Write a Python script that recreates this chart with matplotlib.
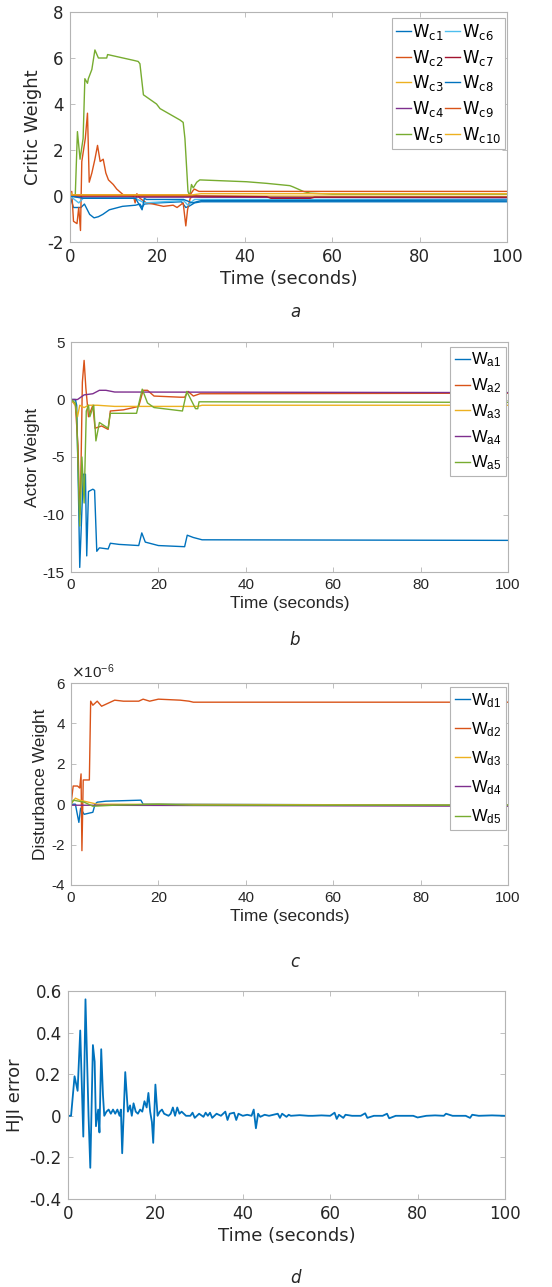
import numpy as np
import matplotlib
matplotlib.use("Agg")
from matplotlib import pyplot as plt
from matplotlib.ticker import FuncFormatter

plt.rcParams['axes.unicode_minus'] = False
plt.rcParams['mathtext.fontset'] = 'custom'

W, H = 552, 1287
colors = ['#0072BD', '#D95319', '#EDB120', '#7E2F8E', '#77AC30',
          '#4DBEEE', '#A2142F', '#0072BD', '#D95319', '#EDB120']

# ---- panel a: critic weights ----
tc1 = [0, 0.8, 2.5, 3.3, 4.5, 5.5, 6.5, 7.5, 9, 12, 15, 16, 16.5, 17, 20, 25.5, 26.5, 27.2, 28.5, 30, 100]
wc1 = [0, -0.5, -0.5, -0.35, -0.8, -0.95, -0.9, -0.8, -0.6, -0.45, -0.4, -0.35, -0.5, -0.35, -0.3, -0.25, -0.5, -0.45, -0.3, -0.25, -0.25]
tc2 = [0, 0.4, 0.8, 1.6, 2.0, 2.4, 2.7, 3.5, 4.0, 4.4, 5.0, 5.7, 6.3, 6.9, 7.6, 8.2, 8.8, 9.9, 10.7, 12.2,
       14.5, 14.9, 15.3, 16, 17.5, 19, 21.4, 23.6, 24.5, 25.9, 26.5, 26.9, 27.5, 28.2, 30, 100]
wc2 = [0, 0.2, -1.1, -1.2, -0.5, -1.5, 1.5, 2.5, 3.6, 0.6, 1.0, 1.6, 2.2, 1.5, 1.6, 1.0, 0.7, 0.5, 0.3, 0.05,
       0.0, -0.3, 0.1, -0.1, -0.3, -0.35, -0.45, -0.4, -0.5, -0.3, -1.3, -0.6, -0.1, 0.0, -0.05, -0.05]
tc3 = [0, 0.5, 1.5, 3, 28, 100]
wc3 = [0.2, 0.05, 0.05, 0.05, 0.0, -0.02]
tc4 = [0, 2, 28, 100]
wc4 = [0, -0.05, -0.05, -0.08]
tc5 = [0, 1.2, 1.7, 2.3, 3.0, 3.4, 4.0, 4.2, 5.0, 5.7, 6.5, 8.4, 8.6, 14.5, 15.6, 16.0, 16.8, 19.8, 20.6,
       25.2, 25.9, 26.3, 27.0, 27.4, 27.8, 28.2, 29.0, 29.7, 40.4, 45, 50.3, 51, 53.4, 55, 60, 100]
wc5 = [0, 0, 2.8, 1.6, 2.5, 5.1, 4.9, 5.1, 5.5, 6.35, 6.0, 6.0, 6.15, 5.9, 5.85, 5.75, 4.4, 4.0, 3.8,
       3.3, 3.2, 2.5, 0.2, 0.0, 0.5, 0.35, 0.6, 0.7, 0.62, 0.55, 0.45, 0.4, 0.2, 0.12, 0.08, 0.08]
tc6 = [0, 2, 3, 15, 17, 26, 27, 28.5, 100]
wc6 = [0, -0.3, -0.1, -0.1, -0.3, -0.2, -0.4, -0.15, -0.15]
tc7 = [0, 28, 45, 46, 55, 56, 100]
wc7 = [0, 0.0, -0.03, -0.1, -0.1, -0.05, -0.05]
tc8 = [0, 3, 15, 16.5, 17, 17.5, 26, 28, 30, 100]
wc8 = [0, -0.1, -0.1, -0.6, -0.1, -0.15, -0.15, -0.3, -0.2, -0.18]
tc9 = [0, 27.5, 28.2, 28.5, 29.5, 100]
wc9 = [0.05, 0.05, 0.25, 0.3, 0.2, 0.2]
tc10 = [0, 28, 30, 100]
wc10 = [0.05, 0.05, 0.1, 0.1]

# ---- panel b: actor weights ----
ta1 = [0, 1.0, 1.3, 1.7, 2.0, 2.8, 3.3, 3.6, 4.0, 5.0, 5.4, 5.9, 6.5, 8.5, 9.0, 11, 15.5, 16.2, 17, 20,
       26, 26.6, 28, 29, 30, 100]
wa1 = [0, 0, -0.5, -8, -14.6, -6.5, -6.5, -13.6, -8.0, -7.8, -7.9, -13.2, -12.9, -13.0, -12.5, -12.6, -12.7,
       -11.6, -12.4, -12.7, -12.8, -11.8, -12.0, -12.1, -12.2, -12.25]
ta2 = [0, 1.0, 1.6, 2.0, 2.2, 2.6, 3.0, 3.4, 4.0, 5.0, 5.5, 7.0, 8.5, 9.0, 12, 15.5, 16.5, 17.5, 19, 25,
       26, 26.8, 28, 29.5, 100]
wa2 = [0, -0.5, -4, -10, -8, 1.5, 3.4, 1.0, -1.5, -0.5, -2.5, -2.3, -2.6, -1.0, -0.9, -0.6, 0.8, 0.8, 0.3,
       0.2, 0.2, 0.7, 0.3, 0.5, 0.55]
ta3 = [0, 1.0, 1.5, 2.0, 3.0, 4.0, 6, 10, 29, 30, 100]
wa3 = [0, -0.5, -1.5, -0.5, -0.7, -0.5, -0.5, -0.6, -0.6, -0.5, -0.5]
ta4 = [0, 1.5, 3, 5, 6.5, 8, 10, 100]
wa4 = [0, 0, 0.4, 0.5, 0.8, 0.8, 0.65, 0.6]
ta5 = [0, 1.0, 1.3, 2.0, 2.5, 3.0, 3.5, 4.0, 4.3, 5.2, 5.7, 6.5, 8.5, 9.0, 15, 16.3, 17.5, 19, 25.5, 26.5,
       28.5, 29, 29.3, 100]
wa5 = [0, -0.3, -1.5, -11, -5, -9, -1, -0.5, -1.5, -0.5, -3.6, -2.0, -2.5, -1.2, -1.2, 0.9, -0.3, -0.7,
       -1.0, 0.7, -0.8, -0.8, -0.2, -0.25]

# ---- panel c: disturbance weights (x 1e-6) ----
td1 = [0, 1.0, 1.8, 2.2, 3.0, 5.0, 5.5, 6.0, 8, 16, 16.5, 100]
wd1 = [0, 0, -0.9, -0.2, -0.5, -0.4, 0.0, 0.1, 0.15, 0.2, 0.0, -0.05]
td2 = [0, 0.5, 1.5, 2.0, 2.3, 2.5, 2.8, 4.2, 4.5, 5.0, 6.0, 7.0, 8.5, 10, 12, 15.5, 16.5, 18, 20, 25, 27, 28, 100]
wd2 = [0, 0.9, 0.9, 0.8, 1.5, -2.3, 1.2, 1.2, 5.1, 4.9, 5.1, 4.85, 5.0, 5.15, 5.1, 5.1, 5.2, 5.1, 5.2, 5.15,
       5.1, 5.05, 5.05]
td3 = [0, 1.0, 2.0, 4.0, 6, 100]
wd3 = [0, 0.3, 0.2, 0.1, 0.0, -0.05]
td4 = [0, 100]
wd4 = [-0.05, -0.1]
td5 = [0, 0.5, 3, 5, 10, 20, 28, 100]
wd5 = [0, 0.2, 0.1, -0.1, -0.05, 0, -0.05, -0.05]

# ---- panel d: HJI error ----
th = [0, 0.7, 1.5, 2.2, 2.8, 3.5, 4.0, 4.7, 5.1, 5.7,
      6.1, 6.4, 6.9, 7.2, 7.6, 8.0, 8.3, 8.8, 9.3, 9.8,
      10.3, 10.8, 11.3, 11.8, 12.1, 12.4, 13.1, 13.7, 14.2, 14.6,
      15.0, 15.5, 16.0, 16.5, 17.0, 17.5, 18.0, 18.4, 18.8, 19.2,
      19.5, 20.0, 20.5, 21.0, 21.5, 22.0, 23.0, 23.5, 24.0, 24.5,
      25.0, 25.5, 26.0, 27.0, 28.0, 28.5, 29.0, 30.0, 31.0, 31.5,
      32.0, 32.5, 33.0, 34.0, 35.0, 36.0, 36.5, 37.0, 38.0, 38.5,
      39.0, 40.0, 41.0, 42.0, 42.5, 43.0, 43.5, 44.0, 45.0, 46.0,
      47.0, 48.0, 48.5, 49.0, 50.0, 50.5, 51.0, 53.0, 55.0, 56.0,
      58.0, 60.0, 61.0, 61.5, 62.0, 63.0, 63.5, 65.0, 67.0, 68.0,
      68.5, 70.0, 72.0, 73.0, 73.5, 75.0, 79.0, 80.0, 82.0, 84.0,
      86.0, 86.5, 88.0, 91.0, 92.0, 92.5, 94.0, 97.0, 100.0]
hji = [0, 0, 0.19, 0.12, 0.41, -0.1, 0.56, 0.0, -0.25, 0.34,
       0.26, -0.05, 0.03, -0.08, 0.32, 0.1, 0.0, 0.02, 0.03, 0.01,
       0.03, 0.01, 0.03, 0.0, 0.03, -0.18, 0.21, 0.02, 0.05, 0.0,
       0.06, 0.02, 0.01, 0.03, 0.02, 0.07, 0.04, 0.11, 0.02, -0.03,
       -0.13, 0.15, 0.0, 0.02, 0.03, 0.01, 0.0, 0.01, 0.04, 0.0,
       0.04, 0.01, 0.02, 0.0, 0.0, 0.015, -0.01, 0.01, -0.005, 0.015,
       0.0, 0.015, -0.01, 0.01, 0.0, 0.02, -0.02, 0.01, 0.015, -0.02,
       0.01, 0.0, 0.005, 0.0, 0.03, -0.06, 0.01, -0.005, 0.005, 0.0,
       0.005, 0.01, -0.01, 0.01, -0.005, 0.005, 0.0, 0.003, 0.0, 0.0,
       0.002, 0.0, 0.015, -0.015, 0.005, -0.01, 0.005, 0.0, 0.0, 0.012,
       -0.01, 0.0, 0.0, 0.01, -0.012, 0.0, 0.0, -0.008, 0.0, 0.002,
       0.0, 0.01, 0.0, 0.0, -0.01, 0.005, 0.0, 0.002, 0.0]

critic_t = [tc1, tc2, tc3, tc4, tc5, tc6, tc7, tc8, tc9, tc10]
critic_w = [wc1, wc2, wc3, wc4, wc5, wc6, wc7, wc8, wc9, wc10]
actor_t = [ta1, ta2, ta3, ta4, ta5]
actor_w = [wa1, wa2, wa3, wa4, wa5]
dist_t = [td1, td2, td3, td4, td5]
dist_w = [wd1, wd2, wd3, wd4, wd5]

TICK_GRAY = '#b4b4b4'
TEXT = '#262626'


def px_axes(fig, left, top, right, bottom):
    return fig.add_axes([left / W, 1 - bottom / H, (right - left) / W, (bottom - top) / H])


def style_axes(ax, family, tsize):
    for s in ax.spines.values():
        s.set_color(TICK_GRAY)
        s.set_linewidth(0.8)
    ax.tick_params(direction='in', length=3.5, width=0.6, color=TICK_GRAY,
                   top=True, right=True, labelsize=tsize, labelcolor=TEXT, pad=4.5)
    for lab in ax.get_xticklabels() + ax.get_yticklabels():
        lab.set_family(family)
    ax.set_xlim(0, 100)
    ax.set_xticks([0, 20, 40, 60, 80, 100])


def legend(ax, labels, ncol, family, fsize, anchor, spacing):
    leg = ax.legend(labels, ncol=ncol, loc='upper right', bbox_to_anchor=anchor,
                    fancybox=False, framealpha=1, edgecolor=TICK_GRAY,
                    handlelength=0.9, handletextpad=0.1, columnspacing=0.05,
                    labelspacing=spacing, borderpad=0.25, borderaxespad=0,
                    prop={'family': family, 'size': fsize})
    leg.get_frame().set_linewidth(0.8)
    return leg


def labels(ax, ylab, family, size, ypad):
    ax.set_ylabel(ylab, fontsize=size, family=family, color=TEXT, labelpad=ypad)
    ax.set_xlabel('Time (seconds)', fontsize=size, family=family, color=TEXT, labelpad=3)


def caption(letter, y):
    fig.text(295 / W, 1 - y / H, letter, ha='center', va='center', style='italic',
             fontsize=12, color=TEXT)


gfmt = FuncFormatter(lambda v, p: '%g' % round(v, 6))

fig = plt.figure(figsize=(W / 100, H / 100), dpi=100)

# a
ax = px_axes(fig, 70, 12, 507, 242)
for i in range(10):
    ax.plot(critic_t[i], critic_w[i], color=colors[i], lw=1.0)
ax.set_ylim(-2, 8)
ax.set_yticks([-2, 0, 2, 4, 6, 8])
ax.yaxis.set_major_formatter(gfmt)
style_axes(ax, 'DejaVu Sans', 12)
labels(ax, 'Critic Weight', 'DejaVu Sans', 13, 4)
legend(ax, [r'$\mathregular{W_{c%d}}$' % (i + 1) for i in range(10)], 2, 'DejaVu Sans', 12,
       (0.995, 0.975), 0.34)
caption('a', 312)

# b
ax = px_axes(fig, 71, 342, 508, 572)
for i in range(5):
    ax.plot(actor_t[i], actor_w[i], color=colors[i], lw=1.0)
ax.set_ylim(-15, 5)
ax.set_yticks([-15, -10, -5, 0, 5])
ax.yaxis.set_major_formatter(gfmt)
style_axes(ax, 'Liberation Sans', 11)
labels(ax, 'Actor Weight', 'Liberation Sans', 12.5, 2)
legend(ax, [r'$\mathregular{W_{a%d}}$' % (i + 1) for i in range(5)], 1, 'Liberation Sans', 12,
       (0.995, 0.98), 0.42)
caption('b', 640)

# c
ax = px_axes(fig, 71, 683, 508, 885)
for i in range(5):
    ax.plot(dist_t[i], np.array(dist_w[i]) * 1e-6, color=colors[i], lw=1.0)
ax.set_ylim(-4e-6, 6e-6)
ax.set_yticks(np.array([-4, -2, 0, 2, 4, 6]) * 1e-6)
ax.yaxis.set_major_formatter(FuncFormatter(lambda v, p: '%g' % round(v * 1e6, 6)))
style_axes(ax, 'Liberation Sans', 11)
ax.text(0.0, 1.01, r'$\times\mathregular{10^{-6}}$', transform=ax.transAxes, ha='left', va='bottom',
        fontsize=11, family='Liberation Sans', color=TEXT)
labels(ax, 'Disturbance Weight', 'Liberation Sans', 12.5, 2)
legend(ax, [r'$\mathregular{W_{d%d}}$' % (i + 1) for i in range(5)], 1, 'Liberation Sans', 12,
       (0.995, 0.98), 0.62)
caption('c', 962)

# d
ax = px_axes(fig, 68, 991, 505, 1199)
ax.plot(th, hji, color=colors[0], lw=1.3)
ax.set_ylim(-0.4, 0.6)
ax.set_yticks([-0.4, -0.2, 0, 0.2, 0.4, 0.6])
ax.yaxis.set_major_formatter(gfmt)
style_axes(ax, 'DejaVu Sans', 12)
labels(ax, 'HJI error', 'DejaVu Sans', 13, 4)
caption('d', 1278)

fig.savefig('out.png', dpi=100)
